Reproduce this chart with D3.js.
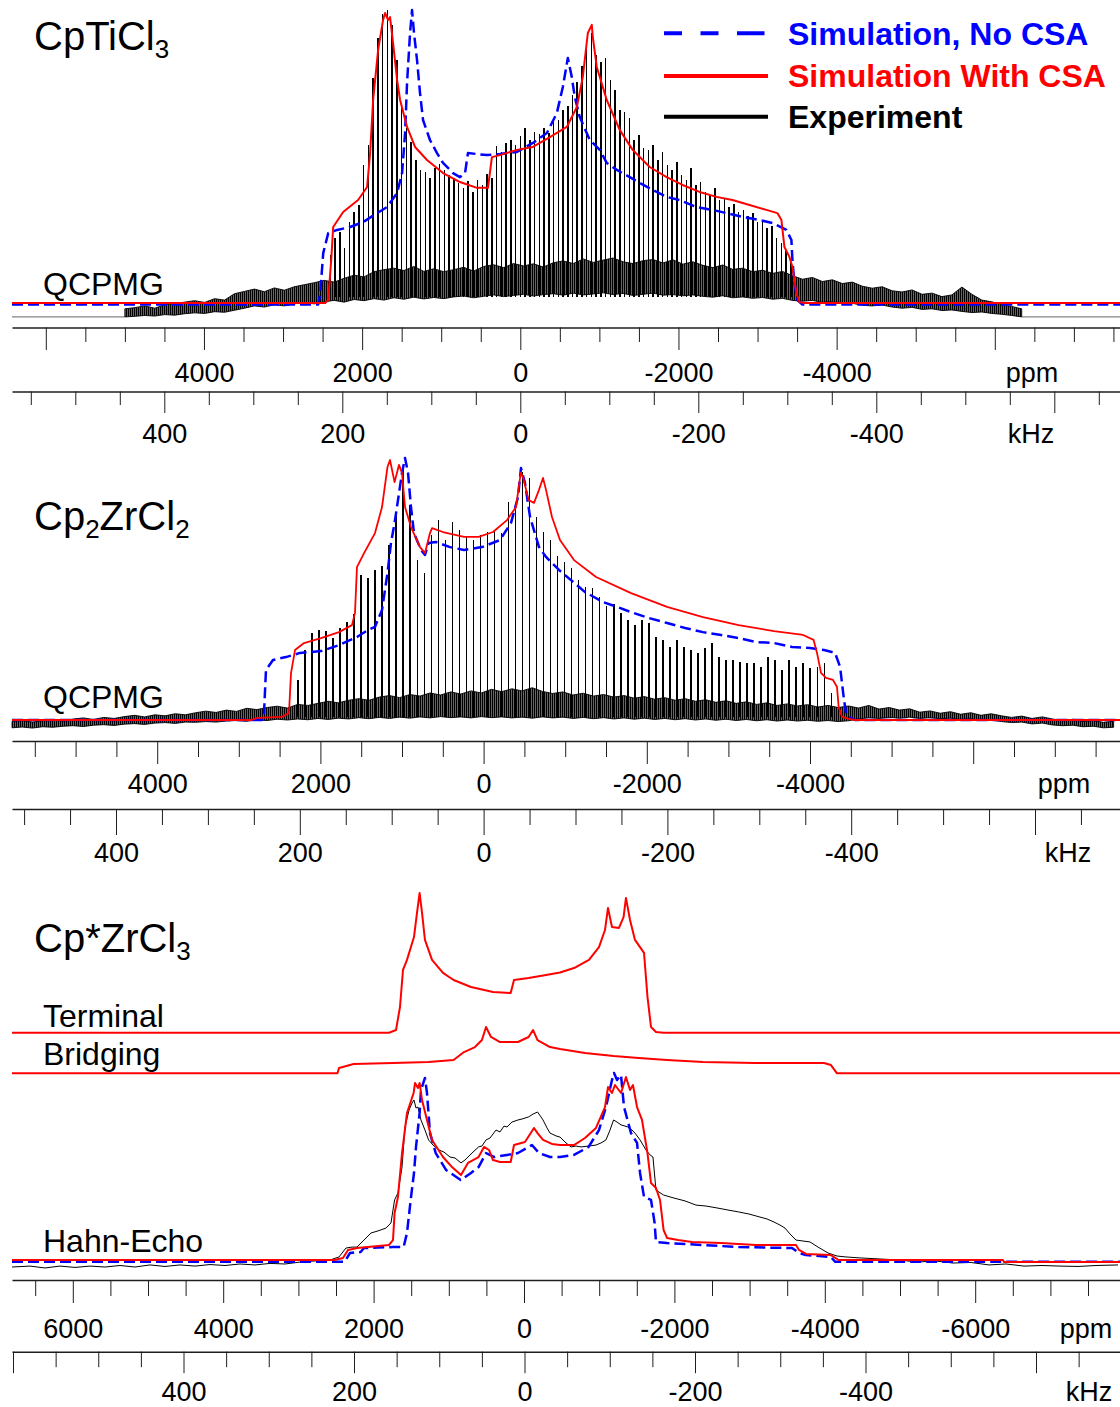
<!DOCTYPE html>
<html>
<head>
<meta charset="utf-8">
<script src="https://cdn.jsdelivr.net/npm/d3@7"></script>
<style>
  body { margin: 0; background: #fff; }
  svg { display: block; }
</style>
</head>
<body>
<svg id="chart" width="1120" height="1407"></svg>
<script>
// ---------------------------------------------------------------
// CpTiCl3 : QCPMG spectrum (ppm, normalised intensity)
// ---------------------------------------------------------------
const tiSimNoCSA = [[2556,-0.5],[2530,3.4],[2492,17.2],[2429,24.1],[2316,25.2],[2152,26.2],[1988,27.9],[1811,31.0],[1685,33.1],[1558,37.9],[1495,44.8],[1457,58.6],[1432,75.9],[1394,93.1],[1369,101],[1344,93.1],[1306,83.8],[1268,72.4],[1230,63.1],[1142,56.2],[1053,51.7],[977,48.3],[851,44.8],[763,43.4],[699,44.8],[662,51.7],[422,51.0],[258,51.4],[43,52.1],[-159,55.2],[-336,58.6],[-462,65.5],[-538,74.5],[-601,84.5],[-651,77.9],[-689,71.0],[-752,64.1],[-879,56.2],[-1005,52.8],[-1093,48.3],[-1220,45.9],[-1384,43.4],[-1510,41.4],[-1674,39.0],[-1850,36.6],[-2014,35.5],[-2229,33.1],[-2431,32.1],[-2607,31.0],[-2809,29.7],[-3024,28.6],[-3188,27.6],[-3365,25.2],[-3428,21.7],[-3441,14.8],[-3466,6.9],[-3504,1.0],[-3567,-0.5]];
const tiSimCSA = [[2467,0],[2429,1.0],[2391,14.8],[2366,26.2],[2240,31.4],[2051,35.5],[1937,40.0],[1899,51.7],[1861,70.0],[1798,87.2],[1735,97.6],[1710,100],[1672,97.6],[1647,98.6],[1609,89.7],[1558,76.9],[1520,70.0],[1432,60.7],[1331,53.8],[1180,49.3],[977,44.8],[763,41.7],[548,39.7],[409,39.7],[359,50.3],[258,51.0],[43,52.8],[-159,53.8],[-374,57.2],[-588,60.7],[-715,67.6],[-790,77.9],[-854,93.1],[-904,95.9],[-917,91.7],[-967,81.4],[-1093,70.0],[-1257,59.7],[-1421,52.8],[-1636,46.9],[-1850,43.4],[-2052,40.7],[-2267,38.3],[-2481,36.6],[-2683,35.5],[-2898,33.8],[-3112,32.1],[-3251,31.0],[-3302,28.6],[-3340,19.3],[-3403,15.9],[-3441,12.4],[-3491,3.4],[-3529,0.3],[-3592,0]];
// spikelet comb: first spikelet (ppm), spacing (ppm), heights
const tiSpikeFirst = 2400;
const tiSpikeStep = 60;
const tiSpikeHeights = [16.6,22.4,24.5,19.0,27.9,31.4,33.8,47.6,54.5,77.6,
  91.4,99.6,101.0,95.9,83.8,68.3,60.3,55.5,49.3,45.9,
  45.2,43.1,46.6,47.9,45.9,44.1,43.1,41.4,39.7,42.1,
  38.3,42.4,40.7,44.5,43.1,54.1,52.1,55.2,56.2,54.5,
  57.6,60.3,56.2,59.0,58.3,60.3,58.6,62.4,63.1,66.5,
  67.9,71.7,76.2,81.7,90.7,93.1,85.5,83.1,84.5,76.9,
  73.4,66.5,65.9,63.8,56.2,57.9,53.4,52.8,54.5,49.3,
  52.1,47.6,45.9,48.6,44.1,42.4,46.6,40.7,41.7,38.3,
  37.2,39.7,35.5,36.2,33.1,34.1,31.4,32.1,30.0,31.0,
  27.9,28.6,25.9,26.5,22.4,20.7,18.3,14.1];
// noise floor envelope: first sample (ppm), spacing (ppm), upper / lower edge
const tiNoiseFirst = 5000;
const tiNoiseStep = 126;
const tiNoiseTop = [-2.0,-1.6,-1.0,-1.8,-0.6,-0.2,0.3,0.8,0.2,1.5,
  1.0,3.2,4.0,4.8,3.9,5.2,4.4,5.6,6.3,7.0,
  7.8,7.2,8.5,9.6,9.0,10.8,11.5,12.0,11.2,12.6,
  10.9,11.8,10.8,11.5,12.3,11.0,12.6,13.2,12.2,13.6,
  12.8,13.5,12.4,13.9,14.5,13.6,15.2,14.0,14.8,15.5,
  14.2,13.6,14.6,15.0,13.8,14.9,13.4,14.2,13.0,12.2,
  13.1,11.6,12.0,10.8,11.3,10.2,10.9,9.4,8.2,8.8,
  7.4,8.0,6.7,7.2,5.8,5.1,5.6,4.2,3.8,4.5,
  3.0,3.4,2.2,2.8,5.5,3.0,1.0,0.4,-0.5,-1.2,
  -2.0];
const tiNoiseBottom = [-4.8,-4.6,-4.3,-4.5,-4.0,-4.2,-3.7,-3.4,-3.6,-3.0,
  -3.2,-2.5,-1.8,-1.0,-1.4,-0.6,-1.0,-0.3,0.2,-0.3,
  0.4,0.9,0.3,1.2,0.8,1.5,1.0,1.8,1.3,2.0,
  1.4,1.9,1.5,2.1,2.4,1.8,2.3,2.8,2.2,2.6,
  3.0,2.4,2.9,3.2,2.7,3.4,2.8,3.1,3.5,2.9,
  3.3,2.6,3.0,3.4,2.7,2.9,2.5,2.8,2.3,2.0,
  2.5,1.8,2.1,1.6,1.9,1.3,1.6,0.9,0.6,0.9,
  0.2,0.5,-0.3,-0.1,-0.8,-1.0,-0.7,-1.4,-1.8,-1.5,
  -2.2,-2.0,-2.6,-2.4,-2.9,-3.3,-3.1,-3.6,-3.9,-4.3,
  -4.8];
const tiExpBaseline = -4.8;

// ---------------------------------------------------------------
// Cp2ZrCl2 : QCPMG spectrum
// ---------------------------------------------------------------
const zrSimNoCSA = [[2716,0],[2691,2.7],[2667,19.2],[2581,23.1],[2422,24.2],[2250,25.8],[1993,26.5],[1772,28.8],[1552,31.9],[1417,34.6],[1331,35.8],[1245,42.3],[1178,56.5],[1135,68.1],[1091,75.8],[1049,84.6],[1000,95.0],[963,100.8],[926,95.0],[890,81.9],[853,71.9],[767,65.4],[718,63.5],[674,68.1],[587,68.5],[412,66.5],[240,65.4],[20,66.5],[-201,69.2],[-336,75.8],[-422,85.8],[-458,96.9],[-507,91.2],[-569,78.1],[-679,66.5],[-765,62.7],[-924,57.7],[-1071,53.8],[-1243,49.2],[-1463,45.4],[-1635,43.5],[-1807,41.5],[-2028,39.2],[-2248,37.3],[-2469,35.4],[-2689,33.8],[-2910,32.7],[-3125,31.5],[-3338,30.0],[-3559,29.6],[-3780,28.1],[-4000,27.7],[-4172,26.9],[-4307,25.8],[-4369,20.4],[-4392,14.2],[-4417,7.7],[-4442,2.7],[-4478,1.2],[-4551,0]];
const zrSimCSA = [[2838,0],[2777,0.8],[2471,1.2],[2385,2.7],[2360,18.1],[2311,26.9],[2201,29.6],[1993,31.5],[1772,33.8],[1613,36.5],[1576,41.2],[1552,58.8],[1465,64.2],[1331,71.9],[1245,81.9],[1178,97.3],[1147,100],[1091,91.5],[1037,98.1],[1000,95.0],[963,81.9],[890,74.2],[779,66.5],[718,64.2],[657,71.9],[632,73.8],[498,72.3],[240,70.4],[61,70.4],[-115,72.3],[-287,76.9],[-397,81.9],[-455,95.0],[-483,93.5],[-551,84.6],[-618,83.5],[-679,88.5],[-728,93.1],[-765,88.5],[-838,78.1],[-936,69.2],[-1108,61.5],[-1378,55.0],[-1807,48.8],[-2248,43.5],[-2689,39.6],[-3125,36.5],[-3559,34.2],[-3915,32.7],[-4044,30.8],[-4086,25.8],[-4135,18.1],[-4196,16.2],[-4282,15.4],[-4331,12.7],[-4351,5.0],[-4392,1.2],[-4478,0.4],[-4551,0]];
const zrSpikeFirst = 2275;
const zrSpikeStep = 86;
const zrSpikeHeights = [15.4,26.9,33.5,34.6,34.2,31.5,35.4,37.7,40.8,55.8,
  54.6,57.7,59.2,67.3,78.8,96.2,82.7,61.5,56.5,71.2,
  76.9,69.2,76.2,73.1,70.4,69.2,71.2,72.3,73.1,71.9,
  83.8,82.7,95.4,93.1,78.1,72.3,69.2,63.1,60.8,58.5,
  53.8,51.2,50.8,47.3,43.8,44.6,41.2,38.5,36.5,38.5,
  37.3,31.9,30.8,28.1,30.8,28.1,26.9,25.8,27.7,29.6,
  24.2,23.1,23.1,22.3,21.9,21.9,20.4,24.2,23.1,19.2,
  23.1,20.4,21.9,20.0,20.4,21.9,10.4,7.7];
const zrNoiseFirst = 5779;
const zrNoiseStep = 125;
const zrNoiseTop = [-0.6,-0.2,-0.8,-0.3,0.1,-0.5,0.4,0.8,0.2,1.0,
  0.6,1.3,1.8,1.2,2.0,1.6,2.4,2.0,2.8,3.4,
  2.9,3.8,3.3,4.5,4.0,4.8,5.3,4.6,6.0,5.6,
  6.4,7.2,6.6,7.6,8.2,7.6,8.8,9.4,8.6,9.8,
  9.2,10.4,9.6,10.8,10.0,11.2,10.4,11.8,10.9,12.0,
  11.2,12.4,11.0,10.2,10.8,9.6,10.3,9.2,9.8,8.8,
  9.4,8.4,9.0,8.0,8.6,7.6,8.2,7.2,7.8,6.8,
  7.4,6.4,7.0,6.0,6.6,5.6,6.2,5.4,5.9,5.0,
  5.6,4.8,5.4,4.6,5.6,4.2,4.8,3.8,4.3,3.0,
  3.5,2.6,3.2,2.2,2.8,1.8,2.4,1.6,1.0,1.5,
  0.6,1.2,0.4,-0.2,0.3,-0.6,-0.2,-0.9,-0.5];
const zrNoiseBottom = [-3.0,-2.7,-3.1,-2.6,-2.8,-2.4,-2.2,-2.5,-2.0,-1.8,
  -2.1,-1.6,-1.4,-1.7,-1.2,-1.0,-1.3,-0.8,-0.9,-0.6,
  -0.8,-0.4,-0.2,-0.5,0.0,-0.2,0.3,0.0,0.4,0.1,
  0.6,0.2,0.7,0.4,0.9,0.5,1.0,0.6,1.1,0.7,
  1.2,0.8,1.3,0.9,1.2,0.8,1.3,0.9,1.2,0.8,
  1.1,0.7,1.2,0.8,1.1,0.6,1.0,0.5,0.9,0.4,
  0.8,0.3,0.7,0.2,0.6,0.1,0.5,0.0,0.4,-0.1,
  0.3,-0.2,0.2,-0.3,0.1,-0.4,0.0,-0.4,-0.1,-0.5,
  -0.2,-0.6,-0.3,0.4,0.9,0.6,1.0,0.7,1.1,0.6,
  0.9,0.5,0.7,0.2,0.5,-0.2,0.0,-0.6,-1.0,-0.8,
  -1.5,-1.2,-1.9,-2.2,-2.0,-2.6,-2.4,-3.0,-2.8];

// ---------------------------------------------------------------
// Cp*ZrCl3 : Hahn-echo spectrum and the two simulated sites
// ---------------------------------------------------------------
const heExperiment = [[6808,-3.7],[6569,-3.2],[6370,-4.2],[6170,-3.2],[5971,-3.9],[5771,-3.2],[5572,-3.7],[5372,-2.9],[5173,-3.7],[4973,-2.6],[4774,-3.4],[4575,-2.6],[4375,-3.2],[4176,-2.4],[3976,-2.9],[3777,-2.1],[3577,-2.6],[3378,-1.8],[3178,-2.1],[2979,-1.1],[2779,-0.5],[2580,0],[2460,1.6],[2367,6.3],[2287,6.8],[2221,6.8],[2128,10.5],[2035,14.2],[1942,15.3],[1835,16.8],[1769,19.5],[1721,31.6],[1676,35.3],[1622,48.9],[1582,70.0],[1529,78.9],[1489,82.6],[1463,84.2],[1436,80.0],[1410,80.5],[1370,73.7],[1317,68.4],[1269,63.2],[1210,60.5],[1130,57.9],[1064,56.8],[984,54.2],[918,53.7],[838,51.1],[785,52.6],[745,54.2],[678,56.8],[604,59.5],[559,60.0],[505,63.2],[452,64.2],[372,68.4],[319,67.4],[266,70.5],[226,70.0],[160,72.6],[80,73.7],[27,74.2],[-61,75.3],[-120,76.8],[-180,77.9],[-226,75.3],[-253,73.7],[-306,69.5],[-346,66.8],[-426,65.3],[-479,64.7],[-559,61.6],[-625,59.5],[-691,60.0],[-758,59.5],[-864,60.0],[-957,60.5],[-1024,61.6],[-1090,63.2],[-1144,68.4],[-1191,73.7],[-1237,72.6],[-1290,71.1],[-1343,70.5],[-1383,70.0],[-1436,68.4],[-1476,66.8],[-1543,63.2],[-1622,57.9],[-1676,55.3],[-1715,54.2],[-1755,36.8],[-1856,34.2],[-1995,32.6],[-2141,31.1],[-2287,28.9],[-2420,28.4],[-2566,27.4],[-2713,26.3],[-2854,25.3],[-2992,24.2],[-3138,22.6],[-3231,21.6],[-3324,20.0],[-3404,18.4],[-3471,16.8],[-3537,13.7],[-3617,10.5],[-3710,10.0],[-3803,9.5],[-3910,6.8],[-4043,3.7],[-4162,2.1],[-4282,1.6],[-4468,1.1],[-4747,0.5],[-5000,0],[-5226,-1.1],[-5465,-0.5],[-5705,-1.6],[-5944,-1.3],[-6183,-2.6],[-6410,-2.1],[-6649,-3.2],[-6888,-2.9],[-7128,-3.2],[-7367,-3.4],[-7606,-2.9],[-7899,-2.6]];
const heSimNoCSA = [[2386,-0.9],[2314,3.7],[2172,4.2],[2128,6.3],[1742,6.8],[1601,6.8],[1556,14.2],[1507,31.6],[1463,45.8],[1436,59.5],[1388,77.4],[1370,89.5],[1317,95.8],[1290,87.9],[1250,66.8],[1174,56.3],[1037,47.4],[842,42.1],[705,45.8],[604,48.9],[505,56.3],[391,54.2],[226,55.3],[80,56.3],[-61,59.5],[-106,60.5],[-199,56.3],[-346,54.2],[-479,54.2],[-665,55.3],[-859,59.5],[-997,68.4],[-1090,80.5],[-1170,94.7],[-1197,98.4],[-1237,94.7],[-1290,97.4],[-1330,80.5],[-1423,66.8],[-1503,61.6],[-1543,45.8],[-1596,33.2],[-1689,31.6],[-1737,19.5],[-1755,9.5],[-1902,8.9],[-2380,7.9],[-2854,6.8],[-3564,6.3],[-3657,3.7],[-3750,2.6],[-4082,1.6],[-4136,-0.9]];
const heSimCSA = [[2527,0],[2407,1.1],[2340,5.3],[2221,6.3],[2074,6.8],[1795,7.9],[1742,10.5],[1721,24.7],[1676,33.2],[1622,56.3],[1556,77.4],[1468,87.9],[1449,93.2],[1410,90.5],[1388,93.2],[1356,84.2],[1290,73.7],[1223,63.2],[1077,54.2],[957,48.9],[838,44.7],[745,51.1],[604,54.2],[532,59.5],[465,57.9],[412,52.6],[319,51.6],[177,51.6],[133,60.5],[-13,62.1],[-133,69.5],[-180,66.8],[-253,63.2],[-372,61.1],[-479,60.5],[-665,60.5],[-811,64.2],[-957,69.5],[-1077,80.5],[-1117,91.0],[-1170,87.9],[-1210,92.1],[-1290,87.9],[-1356,96.3],[-1410,89.5],[-1449,92.1],[-1503,80.5],[-1569,73.7],[-1642,56.3],[-1689,40.5],[-1755,37.9],[-1809,31.6],[-1856,15.8],[-1902,11.6],[-2048,10.5],[-2234,9.5],[-2620,8.9],[-3085,7.9],[-3617,7.9],[-3657,5.3],[-3750,3.2],[-4082,2.6],[-4183,0],[-6370,0],[-6383,-1.1]];
const siteTerminal = [[1795,0],[1702,1.9],[1649,18.4],[1609,44.9],[1556,52.1],[1463,68.5],[1423,85.7],[1388,100],[1356,85.7],[1317,66.4],[1223,52.1],[1077,42.8],[936,37.7],[705,32.7],[412,29.1],[177,28.4],[133,37.7],[-61,39.2],[-293,41.3],[-479,43.1],[-665,46.3],[-864,52.1],[-997,61.3],[-1077,73.5],[-1117,89.3],[-1170,75.7],[-1263,75.0],[-1324,82.8],[-1356,96.5],[-1410,80.7],[-1476,66.4],[-1596,57.1],[-1642,25.6],[-1689,4.1],[-1755,0.5],[-1856,0]];
const siteBridging = [[2480,0],[2460,3.8],[2266,6.7],[1742,7.4],[1269,8.1],[936,9.5],[798,15.2],[652,18.8],[559,23.8],[505,33.1],[439,26.0],[319,22.4],[80,22.4],[-61,26.0],[-120,31.0],[-180,23.8],[-346,18.8],[-479,17.4],[-811,14.5],[-1191,12.4],[-1524,11.0],[-1902,9.5],[-2380,8.1],[-3067,7.4],[-3896,7.4],[-3989,7.4],[-4082,5.9],[-4162,0]];

// axis ticks and labels
const ppmTicks1 = [6000,4000,2000,0,-2000,-4000,-6000];
const ppmLabels1 = ["","4000","2000","0","-2000","-4000",""];
const khzTicks1 = [400,200,0,-200,-400,-600];
const khzLabels1 = ["400","200","0","-200","-400",""];
const ppmTicks2 = [4000,2000,0,-2000,-4000,-6000];
const ppmLabels2 = ["4000","2000","0","-2000","-4000",""];
const khzTicks2 = [400,200,0,-200,-400,-600];
const khzLabels2 = ["400","200","0","-200","-400",""];
const ppmTicks3 = [6000,4000,2000,0,-2000,-4000,-6000];
const ppmLabels3 = ["6000","4000","2000","0","-2000","-4000","-6000"];
const khzTicks3 = [600,400,200,0,-200,-400,-600];
const khzLabels3 = ["","400","200","0","-200","-400",""];

const legendItems = [
  {label: "Simulation, No CSA", color: "#0000ff", dash: "18 18.5 18 18.5 27.5"},
  {label: "Simulation With CSA", color: "#ff0000", dash: null},
  {label: "Experiment", color: "#000000", dash: null}
];

// ---------------------------------------------------------------
const FONT = '"Liberation Sans", Arial, Helvetica, sans-serif';
const LEFT = 12, RIGHT = 1120;
const SIM_DASH = "11 5";
const svg = d3.select("#chart").attr("font-family", FONT);

// fine vertical hatching gives the noise floor its grainy, many-line look
svg.append("defs").append("pattern")
  .attr("id", "noiseHatch").attr("patternUnits", "userSpaceOnUse")
  .attr("width", 2).attr("height", 6)
  .append("rect").attr("width", 1.6).attr("height", 6).attr("fill", "#000");

// linear scale anchored on two known points, then stretched over the full width
function spanScale(dom, rng) {
  const s = d3.scaleLinear().domain(dom).range(rng);
  return s.domain([s.invert(LEFT), s.invert(RIGHT)]).range([LEFT, RIGHT]);
}
function withEdges(data, x, left, right) {
  const d = x.domain();
  return [[d[0], left], ...data, [d[1], right]];
}
function drawLine(g, data, x, y, color, width, dash) {
  g.append("path")
    .datum(data)
    .attr("fill", "none")
    .attr("stroke", color)
    .attr("stroke-width", width)
    .attr("stroke-linejoin", "round")
    .attr("stroke-dasharray", dash)
    .attr("d", d3.line().x(d => x(d[0])).y(d => y(d[1])));
}
function drawNoise(g, x, y, first, step, top, bottom) {
  g.append("path")
    .datum(top)
    .attr("fill", "url(#noiseHatch)")
    .attr("stroke", "#000")
    .attr("stroke-width", 0.9)
    .attr("d", d3.area()
      .x((d, i) => x(first - i * step))
      .y0((d, i) => y(bottom[i]))
      .y1(d => y(d)));
}
function drawSpikelets(g, x, y, first, step, heights, base) {
  g.append("g").attr("shape-rendering", "crispEdges").selectAll("line")
    .data(heights)
    .join("line")
    .attr("x1", (d, i) => x(first - i * step))
    .attr("x2", (d, i) => x(first - i * step))
    .attr("y1", y(base))
    .attr("y2", d => y(d))
    .attr("stroke", "#000")
    .attr("stroke-width", 1.5);
}
function drawAxis(scale, yPos, majors, labels, majorLen, minorLen, labelBase, unit, unitX) {
  const [a, b] = scale.domain();
  const lo = Math.min(a, b), hi = Math.max(a, b);
  const step = (majors[0] - majors[1]) / 4;
  const minors = d3.range(Math.ceil(lo / step) * step, hi, step).filter(v => !majors.includes(v));
  const gMinor = svg.append("g").attr("transform", `translate(0,${yPos})`)
    .call(d3.axisBottom(scale).tickValues(minors).tickSize(minorLen).tickSizeOuter(0).tickFormat(""));
  const gMajor = svg.append("g").attr("transform", `translate(0,${yPos})`)
    .call(d3.axisBottom(scale).tickValues(majors).tickSize(majorLen).tickSizeOuter(0).tickFormat((d, i) => labels[i]));
  gMajor.select(".domain").remove();
  [gMinor, gMajor].forEach(g => g.attr("color", "#1e1e1e").attr("font-family", FONT).attr("font-size", 27));
  gMinor.select(".domain").attr("stroke-width", 1.4);
  gMajor.selectAll("text").attr("y", labelBase - yPos).attr("dy", null).attr("fill", "#000");
  svg.append("text").attr("x", unitX).attr("y", labelBase)
    .attr("text-anchor", "middle").attr("font-size", 27).text(unit);
}
function title(x, y, parts) {
  const t = svg.append("text").attr("x", x).attr("y", y).attr("font-size", 40);
  parts.forEach(p => {
    if (p.sub) t.append("tspan").attr("font-size", 26).attr("dy", 8).text(p.text);
    else t.append("tspan").attr("dy", p.after ? -8 : 0).text(p.text);
  });
}
function label(x, y, text) {
  svg.append("text").attr("x", x).attr("y", y).attr("font-size", 32).text(text);
}

// ---------------- Panel 1 : CpTiCl3 ----------------
{
  const x = spanScale([0, -6000], [520.3, 994.8]);
  const xk = spanScale([0, -200], [520.3, 698.3]);
  const y = d3.scaleLinear().domain([0, 100]).range([303, 13]);
  const g = svg.append("g");
  const d = x.domain();
  const noiseEnd = tiNoiseFirst - (tiNoiseTop.length - 1) * tiNoiseStep;
  drawLine(g, [[d[0], tiExpBaseline], [tiNoiseFirst, tiExpBaseline]], x, y, "#666", 1);
  drawLine(g, [[noiseEnd, tiExpBaseline], [d[1], tiExpBaseline]], x, y, "#666", 1);
  drawNoise(g, x, y, tiNoiseFirst, tiNoiseStep, tiNoiseTop, tiNoiseBottom);
  drawSpikelets(g, x, y, tiSpikeFirst, tiSpikeStep, tiSpikeHeights, 2);
  drawLine(g, withEdges(tiSimNoCSA, x, -0.5, -0.5), x, y, "#0000ff", 2.5, SIM_DASH);
  drawLine(g, withEdges(tiSimCSA, x, 0, 0), x, y, "#ff0000", 2);
  drawAxis(x, 327.5, ppmTicks1, ppmLabels1, 22.5, 14.5, 381.7, "ppm", 1032);
  drawAxis(xk, 391.5, khzTicks1, khzLabels1, 21.5, 13.5, 443, "kHz", 1031);
  title(34, 50, [{text: "CpTiCl"}, {text: "3", sub: true}]);
  label(43, 295, "QCPMG");

  // legend
  const lg = svg.append("g");
  const rows = [33.3, 76, 116.7], base = [45, 87, 128];
  legendItems.forEach((it, i) => {
    lg.append("line").attr("x1", 664).attr("x2", 768).attr("y1", rows[i]).attr("y2", rows[i])
      .attr("stroke", it.color).attr("stroke-width", 4).attr("stroke-dasharray", it.dash);
    lg.append("text").attr("x", 788).attr("y", base[i]).attr("font-size", 32)
      .attr("font-weight", "bold").attr("fill", it.color).text(it.label);
  });
}

// ---------------- Panel 2 : Cp2ZrCl2 ----------------
{
  const x = spanScale([0, -6000], [483.6, 973.2]);
  const xk = spanScale([0, -200], [483.6, 667.4]);
  const y = d3.scaleLinear().domain([0, 100]).range([720, 460]);
  const g = svg.append("g");
  drawNoise(g, x, y, zrNoiseFirst, zrNoiseStep, zrNoiseTop, zrNoiseBottom);
  drawSpikelets(g, x, y, zrSpikeFirst, zrSpikeStep, zrSpikeHeights, 1);
  drawLine(g, withEdges(zrSimNoCSA, x, 0, 0), x, y, "#0000ff", 2.5, SIM_DASH);
  drawLine(g, withEdges(zrSimCSA, x, 0, 0), x, y, "#ff0000", 1.8);
  drawAxis(x, 741, ppmTicks2, ppmLabels2, 23, 16, 793, "ppm", 1064);
  drawAxis(xk, 809, khzTicks2, khzLabels2, 26, 16, 862, "kHz", 1068);
  title(34, 530, [{text: "Cp"}, {text: "2", sub: true}, {text: "ZrCl", after: true}, {text: "2", sub: true}]);
  label(43, 708, "QCPMG");
}

// ---------------- Panel 3 : Cp*ZrCl3 ----------------
{
  const x = spanScale([0, -6000], [524, 975.2]);
  const xk = spanScale([0, -200], [524.5, 695]);
  const yHE = d3.scaleLinear().domain([0, 100]).range([1260, 1070]);
  const yT = d3.scaleLinear().domain([0, 100]).range([1032.7, 893]);
  const yB = d3.scaleLinear().domain([0, 100]).range([1073.3, 933.6]);
  const g = svg.append("g");
  drawLine(g, withEdges(siteTerminal, x, 0, 0), x, yT, "#ff0000", 2);
  drawLine(g, withEdges(siteBridging, x, 0, 0), x, yB, "#ff0000", 2);
  drawLine(g, heExperiment, x, yHE, "#000", 1);
  drawLine(g, withEdges(heSimNoCSA, x, -0.9, -0.9), x, yHE, "#0000ff", 2.5, SIM_DASH);
  drawLine(g, withEdges(heSimCSA, x, 0, -1.1), x, yHE, "#ff0000", 2);
  drawAxis(x, 1280, ppmTicks3, ppmLabels3, 23, 16, 1338, "ppm", 1086);
  drawAxis(xk, 1351.7, khzTicks3, khzLabels3, 21.5, 15.5, 1401, "kHz", 1089);
  title(34, 952, [{text: "Cp*ZrCl"}, {text: "3", sub: true}]);
  label(43, 1027, "Terminal");
  label(43, 1065, "Bridging");
  label(43, 1252, "Hahn-Echo");
}
</script>
</body>
</html>
